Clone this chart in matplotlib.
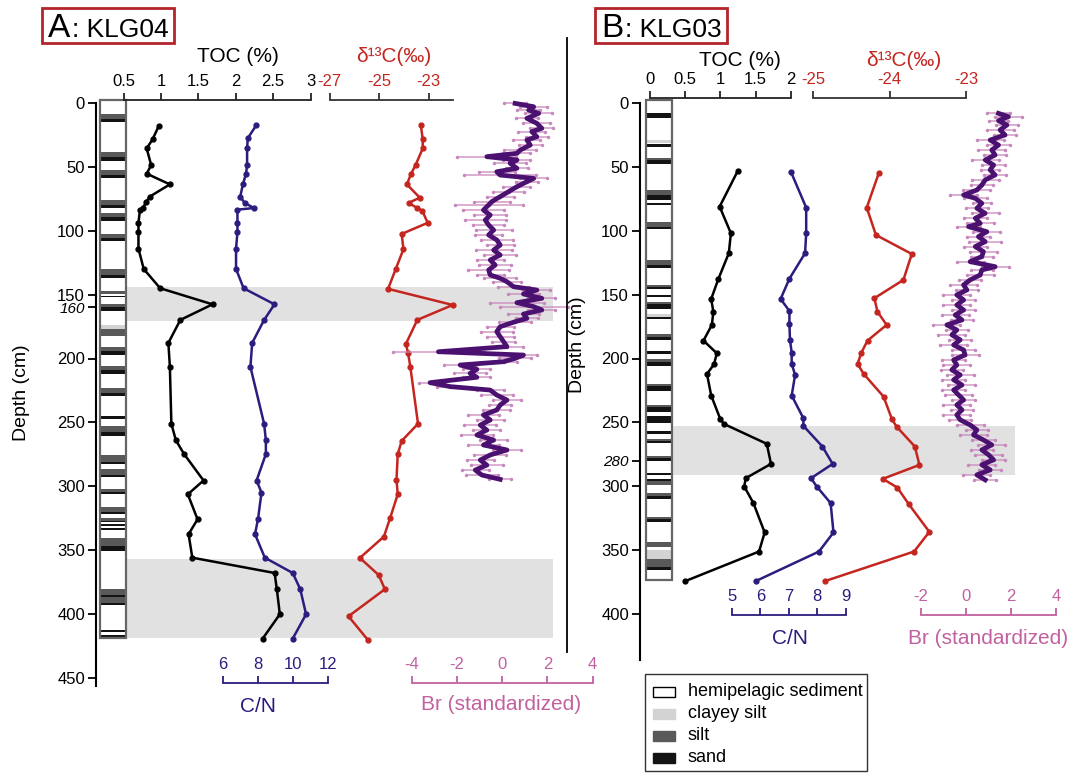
import numpy as np
import matplotlib
matplotlib.use("Agg")
import matplotlib.pyplot as plt
from matplotlib.patches import Rectangle

plt.rcParams['font.family'] = ['Liberation Sans', 'DejaVu Sans']

# ---------------- data: core KLG04 (panel A) ----------------
toc_a_depth = [18.1, 28.3, 35.6, 48.6, 55.3, 63.7, 73.3, 77.7, 82.2, 83.5, 93.8, 101.0, 114.0, 129.9, 145.0, 157.6,
               169.8, 187.8, 206.6, 251.1, 264.0, 274.8, 295.5, 306.3, 325.9, 337.5, 355.9, 367.9, 380.6, 400.2, 419.3]
toc_a = [0.97, 0.89, 0.81, 0.87, 0.81, 1.12, 0.85, 0.80, 0.76, 0.72, 0.70, 0.70, 0.70, 0.77, 0.99, 1.69,
         1.26, 1.10, 1.12, 1.14, 1.20, 1.31, 1.57, 1.36, 1.49, 1.37, 1.42, 2.52, 2.55, 2.59, 2.36]

cn_a_depth = [17.3, 27.5, 35.6, 48.6, 55.3, 63.7, 73.3, 78.2, 82.2, 83.5, 93.8, 101.0, 114.0, 129.9, 145.0, 157.6,
              169.8, 187.8, 206.6, 251.1, 264.0, 274.8, 295.5, 304.9, 325.9, 337.5, 355.9, 367.9, 380.6, 400.2, 419.3]
cn_a = [7.92, 7.43, 7.39, 7.39, 7.33, 7.15, 7.00, 7.25, 7.78, 6.84, 6.84, 6.84, 6.76, 6.76, 7.19, 8.95,
        8.36, 7.68, 7.58, 8.36, 8.46, 8.46, 7.93, 8.21, 8.01, 7.84, 8.40, 9.99, 10.42, 10.75, 9.99]

d13c_a_depth = [17.0, 28.3, 35.6, 48.6, 55.3, 63.7, 74.1, 78.2, 82.2, 84.3, 93.8, 102.5, 114.5, 129.9, 145.5, 158.1,
                169.8, 188.6, 195.9, 206.6, 251.1, 264.5, 274.8, 294.9, 306.3, 325.1, 339.4, 356.1, 369.5, 380.6,
                401.8, 420.7]
d13c_a = [-23.32, -23.24, -23.24, -23.53, -23.71, -23.88, -23.36, -23.81, -23.46, -23.26, -23.04, -24.09, -24.02,
          -24.33, -24.64, -22.03, -23.46, -23.92, -23.83, -23.74, -23.43, -24.09, -24.25, -24.30, -24.25, -24.56,
          -24.81, -25.78, -25.02, -24.77, -26.24, -25.44]

br_a_depth = [0.3, 2.9, 5.5, 8.1, 12.0, 15.9, 19.8, 22.4, 26.4, 29.0, 32.9, 36.8, 39.4, 42.0, 44.6, 47.2, 51.1, 53.8,
              56.4, 59.0, 61.6, 65.5, 69.4, 73.3, 77.2, 79.8, 83.8, 87.7, 91.6, 95.5, 99.4, 103.3, 107.2, 111.2,
              115.1, 119.0, 122.9, 126.8, 130.7, 134.6, 137.2, 139.9, 143.8, 146.4, 149.5, 152.9, 156.3, 159.4,
              162.0, 165.2, 168.6, 171.2, 175.1, 179.0, 182.9, 186.8, 190.7, 194.7, 197.3, 199.9, 202.5, 205.1,
              208.5, 211.6, 214.7, 218.9, 222.0, 224.7, 228.6, 232.5, 236.4, 240.3, 244.2, 248.1, 252.1, 256.0,
              259.9, 263.8, 267.7, 271.6, 275.5, 279.5, 283.4, 287.3, 291.2, 294.6]
br_a = [0.57, 1.39, 1.17, 1.61, 1.09, 1.53, 1.75, 1.31, 1.53, 1.09, 1.24, 0.80, 0.65, -0.68, 0.65, 0.35, 0.65, -0.24,
        -0.09, 1.39, 1.09, 0.65, 0.28, -0.09, -0.46, -0.60, -0.83, -0.53, -0.75, -0.60, -0.38, -0.60, -0.24, -0.09,
        -0.38, -0.09, -0.53, -0.31, -0.60, -0.53, -0.09, 0.21, 0.50, 1.53, 0.94, 1.75, 0.65, 1.39, 1.75, 0.94,
        1.09, 0.57, -0.09, -0.24, -0.09, 0.06, 0.21, -2.82, 0.94, 0.57, 0.06, -1.86, -1.12, -1.42, -1.12, -3.19,
        -2.30, -0.53, -0.24, 0.21, -0.09, -0.24, -0.83, -0.53, -0.97, -0.68, -1.12, -0.38, -0.83, 0.21, -0.53,
        -0.97, -0.68, -1.19, -0.90, -0.09]
br_a_err = [0.5, 0.6, 0.5, 0.6, 0.5, 0.6, 0.5, 0.6, 0.5, 0.6, 0.5, 0.7, 0.6, 1.3, 0.6, 0.7, 0.5, 0.8, 1.6, 0.6,
            0.5, 0.6, 0.7, 0.6, 0.8, 1.5, 0.9, 0.7, 0.9, 0.7, 0.8, 0.6, 0.7, 0.6, 0.8, 0.7, 0.6, 0.7, 0.9, 0.6,
            0.7, 0.6, 0.7, 0.6, 0.7, 0.6, 1.2, 1.5, 0.6, 0.7, 0.5, 0.7, 0.6, 0.7, 0.6, 0.5, 0.7, 2.0, 0.6, 0.7,
            0.6, 0.7, 0.6, 0.7, 0.6, 0.5, 0.6, 0.6, 0.7, 0.6, 0.5, 0.6, 0.7, 0.6, 0.7, 0.6, 0.7, 0.6, 0.7, 0.6,
            0.7, 0.6, 0.7, 0.6, 0.7, 0.5]

litho_a_silt = [(8.6, 12.6), (38.6, 42.5), (52.4, 56.1), (75.9, 79.9), (85.9, 89.0), (102.6, 105.9), (130.2, 134.6),
                (147.2, 149.5), (157.6, 159.5), (176.9, 182.1), (190.7, 194.2), (205.6, 209.0), (222.8, 226.8),
                (252.8, 257.8), (275.6, 280.8), (286.5, 291.2), (302.2, 304.2), (316.0, 320.4), (325.2, 327.0),
                (340.6, 346.5), (380.5, 385.1), (386.4, 391.2)]
litho_a_sand = [(12.6, 14.6), (42.5, 45.2), (56.1, 58.9), (79.9, 82.2), (89.0, 92.1), (105.9, 107.7), (134.6, 136.8),
                (151.1, 152.2), (159.5, 162.9), (194.2, 197.3), (209.0, 212.1), (226.8, 229.3), (245.0, 247.6),
                (257.8, 260.4), (280.8, 282.6), (291.2, 293.0), (304.2, 305.8), (320.4, 321.9), (327.0, 328.0),
                (329.5, 331.2), (333.0, 334.0), (346.5, 350.5), (385.1, 386.4), (391.2, 393.2), (412.5, 414.4),
                (416.4, 417.7)]
litho_a_clay = [(173.7, 176.9)]
litho_a_bottom = 419
bands_a = [(144.0, 170.5), (357.0, 419.0)]

# ---------------- data: core KLG03 (panel B) ----------------
toc_b_depth = [52.9, 81.1, 102.0, 117.6, 138.0, 153.4, 163.3, 173.7, 186.0, 195.9, 204.5, 212.1, 229.0, 247.5,
               251.2, 266.8, 282.5, 293.7, 300.2, 313.2, 336.2, 351.1, 374.3]
toc_b = [1.25, 0.99, 1.15, 1.12, 0.97, 0.87, 0.90, 0.88, 0.76, 0.95, 0.91, 0.81, 0.87, 1.00, 1.05, 1.66, 1.72,
         1.36, 1.34, 1.47, 1.63, 1.55, 0.50]

cn_b_depth = [53.7, 81.9, 102.0, 117.6, 137.5, 153.4, 162.8, 172.9, 185.4, 195.4, 204.2, 212.8, 229.0, 246.7,
              252.7, 268.9, 282.5, 293.7, 300.2, 313.2, 336.2, 351.1, 374.3]
cn_b = [7.07, 7.61, 7.61, 7.57, 7.02, 6.71, 7.02, 7.02, 7.04, 7.10, 7.10, 7.22, 7.10, 7.51, 7.51, 8.18, 8.54,
        7.78, 7.98, 8.47, 8.57, 8.06, 5.83]

d13c_b_depth = [54.5, 81.9, 103.3, 118.2, 138.5, 152.8, 163.3, 173.7, 186.0, 195.4, 204.2, 212.1, 229.8, 247.5,
                253.3, 268.9, 283.3, 294.2, 301.0, 314.0, 335.7, 351.1, 374.3]
d13c_b = [-24.14, -24.30, -24.18, -23.71, -23.82, -24.20, -24.16, -24.04, -24.29, -24.37, -24.42, -24.34, -24.08,
          -23.97, -23.91, -23.67, -23.61, -24.09, -23.90, -23.75, -23.48, -23.68, -24.85]

br_b_depth = [8.1, 10.7, 13.8, 17.2, 21.1, 25.0, 29.0, 32.9, 36.8, 40.7, 44.6, 48.5, 52.4, 56.3, 60.2, 64.2, 68.1,
              72.0, 74.6, 78.5, 82.4, 86.3, 90.2, 94.2, 96.8, 100.7, 104.6, 108.5, 112.4, 116.3, 120.2, 124.2,
              128.1, 130.7, 134.6, 138.5, 142.4, 146.3, 150.2, 154.1, 158.1, 162.0, 165.9, 169.8, 173.7, 177.6,
              181.5, 185.4, 189.4, 193.3, 197.2, 201.1, 205.0, 208.9, 212.8, 216.7, 220.7, 224.6, 228.5, 232.4,
              236.3, 240.2, 244.1, 248.0, 252.0, 255.9, 259.8, 263.7, 267.6, 271.5, 275.4, 279.3, 283.2, 287.2,
              291.1, 295.0]
br_b = [1.45, 1.89, 1.45, 1.82, 1.52, 1.74, 1.08, 1.45, 1.15, 1.30, 0.86, 1.23, 1.08, 1.30, 0.86, 0.71, 0.49, -0.10,
        0.42, 0.71, 0.49, 0.86, 0.42, 0.64, 0.12, 0.93, 0.56, 0.86, 0.42, 0.78, 0.71, 0.19, 1.30, 0.71, 0.64, 0.19,
        -0.10, 0.05, -0.40, -0.10, -0.40, -0.10, -0.47, -0.17, -0.84, -0.40, -0.62, -0.25, -0.54, -0.10, -0.03,
        -0.54, -0.40, -0.62, -0.25, -0.54, -0.17, -0.54, -0.32, -0.10, -0.40, -0.17, -0.40, -0.25, 0.19, 0.49,
        0.34, 0.78, 1.15, 0.71, 1.01, 1.23, 0.71, 1.08, 0.49, 0.86]
br_b_err = [0.5, 0.6, 0.4, 0.5, 0.6, 0.5, 0.6, 0.5, 0.6, 0.5, 0.6, 0.5, 0.4, 0.5, 0.6, 0.5, 0.6, 0.6, 0.5, 0.4,
            0.5, 0.6, 0.5, 0.6, 0.5, 0.6, 0.5, 0.7, 0.5, 0.6, 0.5, 0.6, 0.6, 0.5, 0.6, 0.5, 0.6, 0.5, 0.6, 0.5,
            0.6, 0.5, 0.6, 0.5, 0.6, 0.5, 0.6, 0.5, 0.6, 0.5, 0.6, 0.5, 0.6, 0.5, 0.6, 0.5, 0.6, 0.5, 0.6, 0.5,
            0.6, 0.5, 0.6, 0.5, 0.6, 0.5, 0.6, 0.5, 0.6, 0.5, 0.6, 0.5, 0.6, 0.5, 0.6, 0.5]

litho_b_silt = [(43.3, 44.6), (68.1, 72.0), (93.4, 96.8), (122.8, 126.8), (142.4, 144.0), (155.7, 157.5),
                (181.0, 183.3), (200.6, 202.4), (219.9, 221.2), (236.3, 237.6), (263.2, 264.5), (276.2, 278.0),
                (296.0, 299.1), (305.4, 307.5), (323.7, 325.8), (343.7, 347.2), (356.8, 363.3)]
litho_b_sand = [(7.6, 12.0), (32.1, 34.7), (44.6, 48.0), (72.0, 75.9), (78.5, 80.0), (96.8, 98.8), (126.8, 128.9),
                (144.0, 145.5), (150.0, 151.6), (157.5, 161.2), (167.2, 168.8), (183.3, 185.4), (194.1, 196.2),
                (202.4, 205.8), (221.2, 225.1), (237.6, 241.5), (245.4, 250.2), (256.6, 259.0), (264.5, 266.3),
                (278.0, 279.9), (289.3, 291.4), (294.5, 296.0), (307.5, 309.6), (325.8, 327.9), (363.3, 365.4)]
litho_b_clay = [(29.0, 31.5), (165.4, 167.2), (349.8, 356.8)]
litho_b_bottom = 373
bands_b = [(253.0, 291.0)]

depth_ticks_a = [0, 50, 100, 150, 200, 250, 300, 350, 400, 450]
depth_ticks_b = [0, 50, 100, 150, 200, 250, 300, 350, 400]

toc_a_ticks, toc_a_labels = [0.5, 1, 1.5, 2, 2.5, 3], ['0.5', '1', '1.5', '2', '2.5', '3']
d13c_a_ticks, d13c_a_labels = [-27, -25, -23], ['-27', '-25', '-23']
cn_a_ticks, cn_a_labels = [6, 8, 10, 12], ['6', '8', '10', '12']
br_ticks_a, br_labels_a = [-4, -2, 0, 2, 4], ['-4', '-2', '0', '2', '4']
toc_b_ticks, toc_b_labels = [0, 0.5, 1, 1.5, 2], ['0', '0.5', '1', '1.5', '2']
d13c_b_ticks, d13c_b_labels = [-25, -24, -23], ['-25', '-24', '-23']
cn_b_ticks, cn_b_labels = [5, 6, 7, 8, 9], ['5', '6', '7', '8', '9']
br_ticks_b, br_labels_b = [-2, 0, 2, 4], ['-2', '0', '2', '4']

legend_labels = ['hemipelagic sediment', 'clayey silt', 'silt', 'sand']

# ---------------- style ----------------
NAVY = '#2b1c7e'
RED = '#c4261f'
PINK = '#c2619f'
ERR_PINK = '#c887bd'
PURPLE = '#4a1170'
BAND = '#e1e1e1'
SILT = '#595959'
SAND = '#131313'
CLAY = '#d3d3d3'
BOXRED = '#b3242b'

W, H = 1072, 774
PX_CM = 1.2775   # pixels per cm of depth
Y0 = 103         # pixel row of 0 cm

fig = plt.figure(figsize=(W / 100, H / 100), dpi=100)


def make_ax(x0, x1, y0, y1):
    ax = fig.add_axes([x0 / W, 1 - y1 / H, (x1 - x0) / W, (y1 - y0) / H])
    ax.patch.set_visible(False)
    for s in ax.spines.values():
        s.set_visible(False)
    ax.set_xticks([])
    ax.set_yticks([])
    return ax


def depth_ax(x0, x1, dmax, xlim=(0, 1)):
    ax = make_ax(x0, x1, Y0, Y0 + dmax * PX_CM)
    ax.set_xlim(*xlim)
    ax.set_ylim(dmax, 0)
    return ax


def scale_bar(ax, ticks, labels, line_col, lab_col, pos):
    sp = ax.spines['top']
    sp.set_visible(True)
    sp.set_position(pos)
    sp.set_color(line_col)
    sp.set_linewidth(1.3)
    ax.xaxis.set_ticks_position('top')
    ax.set_xticks(ticks)
    ax.set_xticklabels(labels)
    ax.tick_params(axis='x', direction='out', length=5, width=1.3, color=line_col,
                   labelcolor=lab_col, labelsize=12, pad=3)


def curve(ax, x, d, col):
    ax.plot(x, d, '-o', color=col, lw=1.8, ms=3.5, clip_on=False, zorder=3)


def br_curve(ax, x, d, err):
    x = np.array(x)
    d = np.array(d)
    err = np.array(err)
    ax.hlines(d, x - err, x + err, color=ERR_PINK, lw=1.1, alpha=0.85, clip_on=False, zorder=2)
    for xx in (x - err, x + err, x):
        ax.plot(xx, d, 'o', color=ERR_PINK, ms=2.5, mew=0, clip_on=False, zorder=2)
    ax.plot(x, d, '-', color=PURPLE, lw=3.4, solid_joinstyle='round', clip_on=False, zorder=3)


def bands(x0, x1, dmax, spans):
    ax = depth_ax(x0, x1, dmax)
    for t, b in spans:
        ax.axhspan(t, b, color=BAND, lw=0)


def litho(x0, x1, dmax, bottom, silt, sand, clay):
    ax = depth_ax(x0, x1, dmax)
    ax.add_patch(Rectangle((0, -2), 1, bottom + 2, facecolor='white', edgecolor='none'))
    for spans, col in ((clay, CLAY), (silt, SILT), (sand, SAND)):
        for t, b in spans:
            ax.axhspan(t, b, color=col, lw=0)
    ax.add_patch(Rectangle((0, -2), 1, bottom + 2, fill=False, edgecolor='#666666', lw=1.6, clip_on=False))


def depth_axis(x, dmax, ticks, special):
    ax = depth_ax(x, x + 20, dmax)
    ax.spines['left'].set_visible(True)
    ax.spines['left'].set_linewidth(1.5)
    ax.set_yticks(ticks)
    ax.set_yticklabels([str(t) for t in ticks])
    ax.set_yticks([special], minor=True)
    ax.set_yticklabels([str(special)], minor=True, fontstyle='italic')
    ax.tick_params(axis='y', which='both', direction='out', length=6, width=1.3, labelsize=12, pad=2)
    ax.tick_params(axis='y', which='minor', labelsize=11)


# ---------------- panel A ----------------
DA = 456
bands(127, 553, DA, bands_a)
litho(100, 126, DA, litho_a_bottom, litho_a_silt, litho_a_sand, litho_a_clay)
depth_axis(96, DA, depth_ticks_a, 160)

ax = depth_ax(123.5, 310.5, DA, (0.5, 3))
scale_bar(ax, toc_a_ticks, toc_a_labels, '#222222', 'black', ('outward', 2))
curve(ax, toc_a, toc_a_depth, 'black')

ax = depth_ax(329.7, 453.4, DA, (-27, -22))
scale_bar(ax, d13c_a_ticks, d13c_a_labels, '#333333', RED, ('outward', 2))
curve(ax, d13c_a, d13c_a_depth, RED)

ax = depth_ax(222.7, 328, DA, (6, 12))
scale_bar(ax, cn_a_ticks, cn_a_labels, NAVY, NAVY, ('data', 454))
curve(ax, cn_a, cn_a_depth, NAVY)

ax = depth_ax(411.7, 592.7, DA, (-4, 4))
scale_bar(ax, br_ticks_a, br_labels_a, PINK, PINK, ('data', 454))
br_curve(ax, br_a, br_a_depth, br_a_err)

# ---------------- panel B ----------------
DB = 436
bands(672, 1015, DB, bands_b)
litho(646, 672, DB, litho_b_bottom, litho_b_silt, litho_b_sand, litho_b_clay)
depth_axis(640, DB, depth_ticks_b, 280)

ax = depth_ax(650, 790.7, DB, (0, 2))
scale_bar(ax, toc_b_ticks, toc_b_labels, '#222222', 'black', ('outward', 3.5))
curve(ax, toc_b, toc_b_depth, 'black')

ax = depth_ax(813.3, 966, DB, (-25, -23))
scale_bar(ax, d13c_b_ticks, d13c_b_labels, '#333333', RED, ('outward', 3.5))
curve(ax, d13c_b, d13c_b_depth, RED)

ax = depth_ax(732, 845.7, DB, (5, 9))
scale_bar(ax, cn_b_ticks, cn_b_labels, NAVY, NAVY, ('data', 401))
curve(ax, cn_b, cn_b_depth, NAVY)

ax = depth_ax(920.7, 1056, DB, (-2, 4))
scale_bar(ax, br_ticks_b, br_labels_b, PINK, PINK, ('data', 401))
br_curve(ax, br_b, br_b_depth, br_b_err)

# ---------------- labels, titles, legend (pixel overlay) ----------------
ov = fig.add_axes([0, 0, 1, 1])
ov.set_xlim(0, W)
ov.set_ylim(H, 0)
ov.axis('off')

ov.plot([567, 567], [38, 652], color='black', lw=1.3)

for x0, letter, name in ((42, 'A', ': KLG04'), (595, 'B', ': KLG03')):
    ov.add_patch(Rectangle((x0, 8), 132, 35, fill=False, edgecolor=BOXRED, lw=2))
    ov.text(x0 + 6, 37, letter, fontsize=24, va='baseline', ha='left')
    ov.text(x0 + 30, 37, name, fontsize=19, va='baseline', ha='left')

ov.text(238, 57, 'TOC (%)', fontsize=15, ha='center', va='center')
ov.text(394, 57, 'δ¹³C(‰)', fontsize=15, ha='center', va='center', color=RED)
ov.text(740, 60, 'TOC (%)', fontsize=15, ha='center', va='center')
ov.text(904, 60, 'δ¹³C(‰)', fontsize=15, ha='center', va='center', color=RED)

ov.text(258, 706, 'C/N', fontsize=15, ha='center', va='center', color=NAVY)
ov.text(501, 705, 'Br (standardized)', fontsize=15, ha='center', va='center', color=PINK)
ov.text(790, 638, 'C/N', fontsize=15, ha='center', va='center', color=NAVY)
ov.text(988, 638, 'Br (standardized)', fontsize=15, ha='center', va='center', color=PINK)

ov.text(22, 393, 'Depth (cm)', fontsize=14, rotation=90, ha='center', va='center')
ov.text(578, 345, 'Depth (cm)', fontsize=14, rotation=90, ha='center', va='center')

ov.add_patch(Rectangle((645, 674), 222, 97, fill=False, edgecolor='#333333', lw=1))
leg_faces = ['white', CLAY, SILT, SAND]
for i, (lab, fc) in enumerate(zip(legend_labels, leg_faces)):
    yc = 692 + i * 22
    ov.add_patch(Rectangle((653, yc - 5), 22, 10, facecolor=fc,
                           edgecolor='black' if fc == 'white' else fc, lw=1))
    ov.text(688, yc, lab, fontsize=13, ha='left', va='center')

fig.savefig('out.png', dpi=100)
